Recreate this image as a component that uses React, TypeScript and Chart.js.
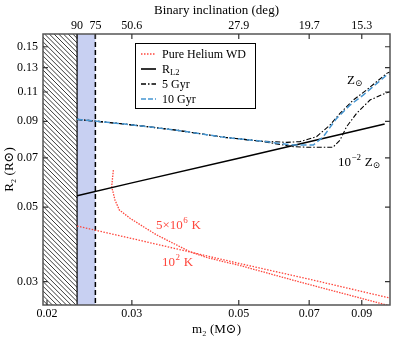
import React, { useEffect, useRef } from 'react';
import { Chart, registerables } from 'chart.js';
Chart.register(...registerables);

// axis ranges and ticks
const massRange = [0.01962, 0.103];
const radiusRange = [0.02555, 0.1637];
const massTicks = [0.02, 0.03, 0.05, 0.07, 0.09];
const radiusTicks = [0.03, 0.05, 0.07, 0.09, 0.11, 0.13, 0.15];
const inclinationLabels = ['90', '75', '50.6', '27.9', '19.7', '15.3'];
const inclinationMass = [0.02309, 0.0252, 0.03, 0.05, 0.07, 0.09];
const edgeOnMass = 0.02309;
const eclipseMass = 0.0252;

// Roche lobe radius
const rl2Mass = [0.02309, 0.03, 0.05, 0.07, 0.1004];
const rl2Radius = [0.054, 0.059, 0.0699, 0.0782, 0.0883];

// pure helium WD, 10^2 K
const coldMass = [0.02309, 0.03, 0.05, 0.07, 0.1029];
const coldRadius = [0.0439, 0.0403, 0.034, 0.0305, 0.0268];

// pure helium WD, 5x10^6 K
const hotMass = [0.02746, 0.02724, 0.02768, 0.02826, 0.02974, 0.03169, 0.03378, 0.03656, 0.0396, 0.0429, 0.04644, 0.04988, 0.067, 0.1029];
const hotRadius = [0.0644, 0.0575, 0.0524, 0.049, 0.0463, 0.0437, 0.0413, 0.039, 0.0368, 0.0354, 0.0344, 0.0336, 0.0299, 0.0254];

// common evolutionary track (low masses)
const trackMass = [0.02309, 0.02902, 0.03686, 0.0468, 0.0553];
const trackRadius = [0.0912, 0.0883, 0.0848, 0.0806, 0.0786];

// 5 Gyr, solar metallicity
const gyr5SolarMass = [0.0629, 0.067, 0.0725, 0.0773, 0.0811, 0.0864, 0.0921, 0.1014, 0.1029];
const gyr5SolarRadius = [0.0779, 0.0783, 0.081, 0.0877, 0.095, 0.1041, 0.1115, 0.125, 0.1261];

// 10 Gyr, solar metallicity
const gyr10SolarMass = [0.0649, 0.0714, 0.0749, 0.0798, 0.0851, 0.0906, 0.1014, 0.1029];
const gyr10SolarRadius = [0.0765, 0.0765, 0.081, 0.0918, 0.1006, 0.1077, 0.1236, 0.1244];

// 5 Gyr, 10^-2 solar metallicity
const gyr5LowMass = [0.0649, 0.0702, 0.0784, 0.0811, 0.0837, 0.0878, 0.0936, 0.1014, 0.1029];
const gyr5LowRadius = [0.0756, 0.0753, 0.0753, 0.0791, 0.0867, 0.095, 0.1041, 0.1095, 0.11];

const legendLabels = ['Pure Helium WD', 'R', '5 Gyr', '10 Gyr'];

const RED = 'rgb(255,70,60)';
const BLUE = 'rgb(70,150,210)';
const SERIF = '"Liberation Serif", "DejaVu Serif", serif';

const pts = (m: number[], r: number[]) => m.map((v, i) => ({ x: v, y: r[i] }));

const decor = {
  id: 'decor',
  beforeDatasetsDraw(chart: any) {
    const { ctx, chartArea: a, scales } = chart;
    const x90 = scales.x.getPixelForValue(edgeOnMass);
    const x75 = scales.x.getPixelForValue(eclipseMass);
    ctx.save();
    ctx.fillStyle = 'rgb(200,208,242)';
    ctx.fillRect(x90, a.top, x75 - x90, a.bottom - a.top);
    // hatch
    ctx.save();
    ctx.beginPath();
    ctx.rect(a.left, a.top, x90 - a.left, a.bottom - a.top);
    ctx.clip();
    ctx.strokeStyle = '#222';
    ctx.lineWidth = 0.9;
    const H = a.bottom - a.top;
    for (let k = -H; k < x90 - a.left + 5; k += 4.7) {
      ctx.beginPath();
      ctx.moveTo(a.left + k, a.top);
      ctx.lineTo(a.left + k + H, a.bottom);
      ctx.stroke();
    }
    ctx.restore();
    ctx.strokeStyle = '#000';
    ctx.lineWidth = 1.2;
    ctx.beginPath();
    ctx.moveTo(x90, a.top);
    ctx.lineTo(x90, a.bottom);
    ctx.stroke();
    ctx.setLineDash([5, 3]);
    ctx.lineWidth = 1.5;
    ctx.beginPath();
    ctx.moveTo(x75, a.top);
    ctx.lineTo(x75, a.bottom);
    ctx.stroke();
    ctx.restore();
  },
  afterDraw(chart: any) {
    const { ctx, chartArea: a, scales } = chart;
    ctx.save();
    // frame
    ctx.strokeStyle = '#555';
    ctx.lineWidth = 1.5;
    ctx.strokeRect(a.left, a.top, a.right - a.left, a.bottom - a.top);
    // inside ticks
    ctx.lineWidth = 1.2;
    ctx.strokeStyle = '#333';
    const tl = 5;
    scales.y.ticks.forEach((t: any) => {
      const y = scales.y.getPixelForValue(t.value);
      ctx.beginPath();
      ctx.moveTo(a.left, y); ctx.lineTo(a.left + tl, y);
      ctx.moveTo(a.right, y); ctx.lineTo(a.right - tl, y);
      ctx.stroke();
    });
    scales.x.ticks.forEach((t: any) => {
      const x = scales.x.getPixelForValue(t.value);
      ctx.beginPath();
      ctx.moveTo(x, a.bottom); ctx.lineTo(x, a.bottom - tl);
      ctx.stroke();
    });
    scales.x2.ticks.forEach((t: any) => {
      const x = scales.x2.getPixelForValue(t.value);
      ctx.beginPath();
      ctx.moveTo(x, a.top); ctx.lineTo(x, a.top + tl);
      ctx.stroke();
    });
    // annotations
    ctx.textBaseline = 'middle';
    ctx.textAlign = 'left';
    ctx.fillStyle = RED;
    ctx.font = `13px ${SERIF}`;
    let x = 156;
    ctx.fillText('5×10', x, 226);
    x += ctx.measureText('5×10').width;
    ctx.font = `9px ${SERIF}`;
    ctx.fillText('6', x + 0.5, 221);
    x += ctx.measureText('6').width + 1;
    ctx.font = `13px ${SERIF}`;
    ctx.fillText(' K', x, 226);
    x = 162;
    ctx.fillText('10', x, 263);
    x += ctx.measureText('10').width;
    ctx.font = `9px ${SERIF}`;
    ctx.fillText('2', x + 0.5, 258);
    x += ctx.measureText('2').width + 1;
    ctx.font = `13px ${SERIF}`;
    ctx.fillText(' K', x, 263);

    ctx.fillStyle = '#000';
    ctx.font = `13px ${SERIF}`;
    ctx.fillText('Z', 347, 81);
    ctx.font = `9px ${SERIF}`;
    ctx.fillText('⊙', 355, 84);
    x = 338;
    ctx.font = `13px ${SERIF}`;
    ctx.fillText('10', x, 163);
    x += ctx.measureText('10').width;
    ctx.font = `9px ${SERIF}`;
    ctx.fillText('−2', x + 0.5, 158);
    x += ctx.measureText('−2').width + 1;
    ctx.font = `13px ${SERIF}`;
    ctx.fillText(' Z', x, 163);
    x += ctx.measureText(' Z').width;
    ctx.font = `9px ${SERIF}`;
    ctx.fillText('⊙', x, 166);

    // legend
    const lx = 135, ly = 43, lw = 120, lh = 65;
    ctx.fillStyle = '#fff';
    ctx.fillRect(lx, ly, lw, lh);
    ctx.strokeStyle = '#000';
    ctx.lineWidth = 1;
    ctx.setLineDash([]);
    ctx.strokeRect(lx + 0.5, ly + 0.5, lw, lh);
    const rows = [54, 69, 84, 99];
    const styles = [
      { c: RED, w: 1.3, d: [1.5, 1.5] },
      { c: '#000', w: 1.6, d: [] },
      { c: '#000', w: 1.3, d: [5, 2, 1.5, 2] },
      { c: BLUE, w: 1.5, d: [5, 2] },
    ];
    rows.forEach((ry, i) => {
      const s = styles[i];
      ctx.strokeStyle = s.c;
      ctx.lineWidth = s.w;
      ctx.setLineDash(s.d);
      ctx.beginPath();
      ctx.moveTo(141, ry);
      ctx.lineTo(156, ry);
      ctx.stroke();
      ctx.setLineDash([]);
      ctx.fillStyle = '#000';
      ctx.font = `12px ${SERIF}`;
      ctx.fillText(legendLabels[i], 162, ry + 1);
      if (i === 1) {
        const w = ctx.measureText('R').width;
        ctx.font = `8.5px ${SERIF}`;
        ctx.fillText('L2', 162 + w, ry + 4);
      }
    });
    ctx.restore();
  },
};

export default function App() {
  const ref = useRef<HTMLCanvasElement>(null);
  useEffect(() => {
    const common = { pointRadius: 0, showLine: true, fill: false, tension: 0 } as any;
    // Chart.js paints dataset 0 last (on top)
    const chart = new Chart(ref.current!, {
      type: 'scatter',
      data: {
        datasets: [
          { ...common, label: '10 Gyr Z', data: pts(trackMass.concat(gyr10SolarMass), trackRadius.concat(gyr10SolarRadius)), borderColor: BLUE, borderWidth: 1.5, borderDash: [6, 3] },
          { ...common, label: '5 Gyr Z', data: pts(trackMass.concat(gyr5SolarMass), trackRadius.concat(gyr5SolarRadius)), borderColor: '#000', borderWidth: 1.1, borderDash: [5, 2, 1.5, 2] },
          { ...common, label: '5 Gyr low Z', data: pts(trackMass.concat(gyr5LowMass), trackRadius.concat(gyr5LowRadius)), borderColor: '#000', borderWidth: 1.1, borderDash: [5, 2, 1.5, 2] },
          { ...common, label: 'RL2', data: pts(rl2Mass, rl2Radius), borderColor: '#000', borderWidth: 1.5 },
          { ...common, label: 'hot', data: pts(hotMass, hotRadius), borderColor: RED, borderWidth: 1.3, borderDash: [1.5, 1.2] },
          { ...common, label: 'cold', data: pts(coldMass, coldRadius), borderColor: RED, borderWidth: 1.3, borderDash: [1.5, 1.5] },
        ],
      },
      options: {
        responsive: false,
        animation: false,
        layout: { padding: { left: 0, right: 17, top: 0, bottom: 0 } },
        plugins: { legend: { display: false }, tooltip: { enabled: false } },
        scales: {
          x: {
            type: 'logarithmic',
            position: 'bottom',
            min: massRange[0],
            max: massRange[1],
            afterBuildTicks: (s: any) => { s.ticks = massTicks.map((v) => ({ value: v })); },
            afterFit: (s: any) => { s.height = 33; },
            grid: { display: false, drawTicks: false },
            border: { display: false },
            ticks: {
              autoSkip: false, maxRotation: 0, padding: 2,
              color: '#000', font: { family: SERIF, size: 12 },
              callback: (v: any) => String(v),
            },
            title: { display: true, text: 'm₂ (M⊙)', color: '#000', font: { family: SERIF, size: 13 }, padding: { top: 0, bottom: 1 } },
          },
          x2: {
            type: 'logarithmic',
            position: 'top',
            min: massRange[0],
            max: massRange[1],
            afterBuildTicks: (s: any) => { s.ticks = inclinationMass.map((v) => ({ value: v })); },
            afterFit: (s: any) => { s.height = 34; },
            grid: { display: false, drawTicks: false },
            border: { display: false },
            ticks: {
              autoSkip: false, maxRotation: 0, padding: 1,
              color: '#000', font: { family: SERIF, size: 12 },
              callback: (_v: any, i: number) => inclinationLabels[i],
            },
            title: { display: true, text: 'Binary inclination (deg)', color: '#000', font: { family: SERIF, size: 13 }, padding: { top: 3, bottom: 0 } },
          },
          y: {
            type: 'logarithmic',
            position: 'left',
            min: radiusRange[0],
            max: radiusRange[1],
            afterBuildTicks: (s: any) => { s.ticks = radiusTicks.map((v) => ({ value: v })); },
            afterFit: (s: any) => { s.width = 43; },
            grid: { display: false, drawTicks: false },
            border: { display: false },
            ticks: {
              autoSkip: false, padding: 5,
              color: '#000', font: { family: SERIF, size: 12 },
              callback: (v: any) => String(v),
            },
            title: { display: true, text: 'R₂ (R⊙)', color: '#000', font: { family: SERIF, size: 13 }, padding: { top: 2, bottom: 0 } },
          },
        },
      } as any,
      plugins: [decor],
    });
    return () => chart.destroy();
  }, []);
  return (
    <div style={{ position: 'absolute', left: 0, top: 0, width: 407, height: 338, background: '#fff' }}>
      <canvas ref={ref} width={407} height={338} style={{ display: 'block' }} />
    </div>
  );
}
